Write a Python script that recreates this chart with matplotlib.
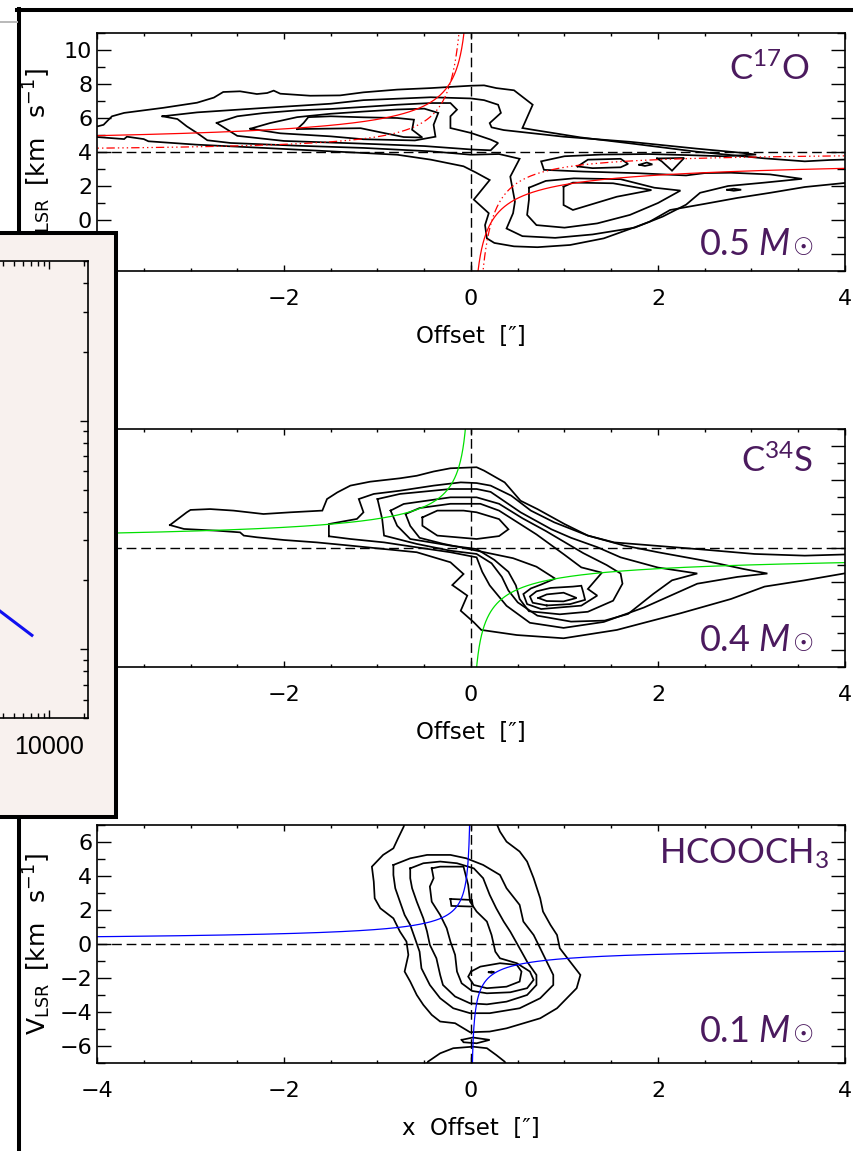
import matplotlib
matplotlib.use("Agg")
import numpy as np
import matplotlib.pyplot as plt
from matplotlib.ticker import MultipleLocator, LogLocator, NullFormatter, FuncFormatter
from matplotlib.lines import Line2D
from matplotlib.patches import Rectangle

plt.rcParams['font.family'] = ['DejaVu Sans']
plt.rcParams['mathtext.fontset'] = 'custom'
plt.rcParams['mathtext.rm'] = 'DejaVu Sans'
plt.rcParams['mathtext.sf'] = 'Lato'
plt.rcParams['mathtext.it'] = 'Lato:italic'
plt.rcParams['lines.scale_dashes'] = False

# ---------------------------------------------------------------- data
molecules = [r"$\mathsf{C^{17}O}$", r"$\mathsf{C^{34}S}$", r"$\mathsf{HCOOCH_3}$"]
masses = [0.5, 0.4, 0.1]            # enclosed mass [Msun]
v_sys = [4.0, 4.0, 0.0]              # systemic velocity [km/s]
ylims = [(-3, 11), (-3, 11), (-7, 7)]
distance_pc = 120.0
infall_j = 0.9                        # v*r for the dash-dot envelope model [km/s arcsec]
curve_colors = ["red", "#00e000", "blue"]

# C17O contours (offset ["], velocity [km/s])
c17o_lvl1 = [(-4.3, 5.45), (-4.0, 5.5), (-3.93, 5.6), (-3.84, 6.1), (-3.71, 6.3), (-3.29, 6.6), (-2.93, 6.9),
             (-2.75, 7.2), (-2.65, 7.53), (-2.47, 7.57), (-2.29, 7.41), (-2.18, 7.47), (-2.11, 7.61), (-2.04, 7.43),
             (-1.72, 7.31), (-1.40, 7.33), (-1.15, 7.51), (-0.79, 7.67), (-0.43, 7.76), (0.0, 7.9), (0.14, 7.92),
             (0.27, 7.76), (0.46, 7.63), (0.66, 6.78), (0.55, 5.41), (0.67, 5.3), (1.17, 4.86), (1.70, 4.51),
             (2.41, 4.02), (3.13, 3.63), (3.57, 3.45), (3.84, 3.53), (4.3, 3.6), (4.3, 2.2), (4.0, 2.18),
             (3.57, 1.94), (3.2, 1.6), (2.85, 1.3), (2.5, 0.95), (2.13, 0.59), (1.91, -0.1), (1.78, -0.37),
             (1.42, -1.08), (1.06, -1.47), (0.71, -1.6), (0.46, -1.55), (0.25, -1.35), (0.17, -1.08), (0.15, -0.3),
             (0.19, 0.4), (0.03, 1.2), (0.2, 2.35), (0.05, 2.8), (-0.08, 3.16), (-0.43, 3.55), (-0.79, 3.84),
             (-1.5, 4.04), (-2.22, 4.24), (-2.93, 4.43), (-3.45, 4.63), (-3.5, 4.76), (-3.68, 4.9), (-3.71, 4.76),
             (-4.0, 4.88), (-4.3, 4.85)]
c17o_lvl2 = [(-3.30, 6.10), (-2.93, 6.33), (-2.22, 6.59), (-1.50, 6.84), (-1.15, 7.05), (-0.43, 7.22), (0.00, 7.15),
             (0.14, 7.05), (0.29, 6.78), (0.32, 6.30), (0.20, 5.70), (0.22, 5.45), (0.35, 5.29), (0.99, 4.90),
             (1.70, 4.60), (2.41, 4.20), (2.90, 3.95), (3.05, 3.85), (2.70, 3.75), (2.30, 3.82), (1.90, 3.88),
             (1.40, 3.85), (1.00, 3.75), (0.75, 3.45), (0.78, 2.95), (1.20, 2.85), (1.80, 2.75), (2.30, 2.62),
             (2.50, 2.76), (2.78, 2.78), (3.20, 2.68), (3.54, 2.42), (3.14, 2.20), (2.75, 2.00), (2.45, 1.60),
             (2.30, 0.90), (2.05, 0.20), (1.75, -0.45), (1.30, -0.85), (0.90, -1.05), (0.55, -0.95), (0.38, -0.50),
             (0.45, 0.40), (0.47, 1.08), (0.42, 2.55), (0.52, 3.60), (0.30, 3.88), (0.00, 3.84), (-0.43, 4.04),
             (-1.15, 4.24), (-1.86, 4.37), (-2.57, 4.53), (-2.82, 4.69), (-2.93, 5.12), (-3.04, 5.51), (-3.14, 5.94)]
c17o_lvl3_red = [(-2.72, 5.71), (-2.50, 6.10), (-2.22, 6.29), (-1.86, 6.45), (-1.50, 6.53), (-1.15, 6.65),
                 (-0.79, 6.78), (-0.43, 6.88), (-0.22, 6.88), (-0.15, 6.49), (-0.22, 6.10), (-0.22, 5.41),
                 (0.00, 5.12), (0.21, 4.73), (0.29, 4.53), (0.21, 4.10), (0.00, 4.15), (-0.50, 4.35), (-1.20, 4.50),
                 (-2.00, 4.65), (-2.50, 4.95)]
c17o_lvl3_blue = [(0.62, 1.90), (0.80, 2.30), (1.10, 2.45), (1.60, 2.40), (1.96, 1.90), (2.24, 1.73), (2.00, 1.00),
                  (1.70, 0.30), (1.35, -0.20), (1.00, -0.45), (0.70, -0.30), (0.60, 0.30), (0.62, 1.20)]
c17o_lvl3_tail_a = [(1.14, 3.15), (1.25, 3.55), (1.60, 3.60), (1.68, 3.30), (1.60, 3.10), (1.30, 3.05)]
c17o_lvl3_tail_b = [(1.99, 3.62), (2.28, 3.65), (2.15, 2.90), (2.04, 3.45)]
c17o_lvl4_red = [(-2.36, 5.37), (-2.15, 5.70), (-1.86, 6.05), (-1.50, 6.25), (-1.15, 6.38), (-0.79, 6.50),
                 (-0.50, 6.55), (-0.35, 6.30), (-0.40, 5.60), (-0.38, 4.90), (-0.60, 4.68), (-1.15, 4.75),
                 (-1.50, 4.92), (-2.04, 5.10)]
c17o_lvl4_blue = [(0.99, 1.96), (1.09, 2.20), (1.52, 2.16), (1.93, 1.76), (1.56, 1.37), (1.09, 0.59), (0.99, 0.88)]
c17o_lvl5_red = [(-1.86, 5.35), (-1.79, 5.71), (-1.74, 6.05), (-1.50, 6.10), (-1.15, 6.04), (-0.79, 6.00),
                 (-0.61, 5.90), (-0.63, 5.31), (-0.52, 4.85), (-0.72, 4.88), (-0.97, 5.16), (-1.18, 5.40)]
c17o_peak_a = [(1.80, 3.25), (1.88, 3.38), (1.94, 3.27), (1.86, 3.18)]
c17o_peak_b = [(2.74, 1.78), (2.81, 1.84), (2.89, 1.78), (2.81, 1.72)]

# C34S contours
c34s_lvl1 = [(-3.22, 5.35), (-3.04, 6.10), (-3.00, 6.24), (-2.79, 6.29), (-2.54, 6.20), (-2.22, 6.00), (-1.93, 6.10),
             (-1.59, 6.20), (-1.54, 6.88), (-1.43, 7.27), (-1.29, 7.67), (-1.08, 7.90), (-0.76, 8.10), (-0.58, 8.25),
             (-0.40, 8.50), (-0.22, 8.69), (0.06, 8.75), (0.14, 8.55), (0.36, 7.86), (0.53, 6.78), (0.71, 6.29),
             (1.00, 5.41), (1.25, 4.73), (1.53, 4.33), (1.96, 4.14), (2.50, 3.90), (3.03, 3.65), (3.57, 3.55),
             (4.00, 3.62), (4.30, 3.62), (4.30, 2.45), (4.00, 2.51), (3.57, 2.10), (3.14, 1.73), (2.78, 1.00),
             (2.24, 0.16), (1.85, -0.40), (1.56, -0.82), (0.99, -1.31), (0.49, -1.12), (0.11, -0.82), (0.03, -0.37),
             (-0.11, 0.31), (-0.04, 1.20), (-0.20, 1.82), (-0.08, 2.47), (-0.22, 3.16), (-0.58, 3.75), (-0.93, 3.94),
             (-1.29, 4.14), (-1.65, 4.33), (-2.00, 4.47), (-2.29, 4.63), (-2.43, 4.73), (-2.47, 4.92), (-2.72, 5.02),
             (-3.07, 5.12)]
c34s_lvl2 = [(-1.52, 4.69), (-1.52, 5.41), (-1.22, 5.71), (-1.15, 6.10), (-1.20, 6.88), (-1.04, 7.18), (-0.76, 7.37),
             (-0.40, 7.67), (-0.11, 7.86), (0.06, 7.82), (0.21, 7.67), (0.43, 7.08), (0.64, 6.20), (0.89, 5.51),
             (1.25, 4.73), (1.64, 4.14), (2.00, 3.75), (2.50, 3.25), (2.92, 2.76), (3.17, 2.50), (2.85, 2.30),
             (2.42, 1.90), (1.85, 0.50), (1.42, -0.35), (0.99, -0.70), (0.63, -0.40), (0.38, 0.60), (0.20, 1.80),
             (0.12, 2.60), (0.06, 3.45), (-0.22, 3.75), (-0.58, 4.04), (-0.93, 4.33), (-1.29, 4.53)]
c34s_lvl3 = [(-1.00, 6.88), (-0.76, 7.18), (-0.22, 7.47), (0.06, 7.47), (0.21, 7.30), (0.53, 6.10), (0.86, 5.10),
             (1.07, 4.60), (1.35, 4.05), (1.60, 3.45), (2.00, 2.85), (2.42, 2.50), (2.15, 2.10), (1.95, 1.30),
             (1.68, 0.12), (1.43, -0.27), (1.07, -0.33), (0.71, 0.02), (0.50, 0.80), (0.40, 1.50), (0.33, 2.30),
             (0.22, 3.10), (0.06, 3.65), (-0.22, 3.84), (-0.58, 4.24), (-0.93, 4.73), (-0.95, 5.71)]
c34s_lvl4 = [(-0.86, 6.20), (-0.72, 6.59), (-0.22, 6.98), (0.06, 6.98), (0.30, 6.60), (0.55, 5.75), (0.80, 5.00),
             (1.00, 4.35), (1.20, 3.70), (1.45, 3.00), (1.60, 2.50), (1.62, 1.90), (1.52, 0.90), (1.25, 0.25),
             (0.95, 0.10), (0.62, 0.28), (0.52, 1.00), (0.48, 1.80), (0.40, 2.60), (0.25, 3.30), (0.06, 3.94),
             (-0.22, 4.14), (-0.65, 4.53), (-0.79, 5.31)]
c34s_lvl5 = [(-0.70, 6.00), (-0.55, 6.35), (-0.22, 6.60), (0.10, 6.60), (0.30, 6.20), (0.50, 5.50), (0.70, 4.80),
             (0.85, 4.20), (1.00, 3.60), (1.18, 2.86), (1.40, 2.55), (1.25, 1.59), (1.35, 1.20), (1.18, 0.61),
             (0.75, 0.41), (0.60, 0.70), (0.56, 1.29), (0.64, 1.62), (0.75, 1.85), (0.90, 2.20), (0.70, 2.90),
             (0.45, 3.40), (0.10, 3.80), (-0.30, 4.25), (-0.55, 4.60), (-0.65, 5.30)]
c34s_lvl6_red = [(-0.52, 5.80), (-0.36, 6.20), (-0.08, 6.20), (0.06, 6.10), (0.30, 5.70), (0.40, 5.10), (0.30, 4.70),
                 (0.06, 4.53), (-0.36, 4.73), (-0.52, 5.31)]
c34s_lvl6_blue = [(0.81, 0.62), (0.66, 0.78), (0.63, 1.15), (0.70, 1.45), (0.85, 1.65), (1.09, 1.73), (1.18, 1.78),
                  (1.20, 1.40), (1.22, 0.95), (1.06, 0.70)]
c34s_lvl7_blue = [(0.72, 1.06), (0.81, 1.27), (0.99, 1.37), (1.13, 1.06), (0.99, 0.86), (0.81, 0.88)]

# HCOOCH3 contours
hcooch3_lvl1 = [(-0.70, 7.30), (-0.72, 6.90), (-0.78, 6.22), (-0.83, 5.63), (-0.94, 5.24), (-1.06, 4.55),
                (-1.04, 3.67), (-1.03, 2.69), (-0.97, 2.10), (-0.83, 1.51), (-0.76, 0.73), (-0.69, 0.14),
                (-0.67, -0.64), (-0.71, -1.62), (-0.65, -2.21), (-0.58, -3.00), (-0.51, -3.58), (-0.42, -4.17),
                (-0.33, -4.56), (-0.17, -4.66), (-0.01, -5.19), (0.20, -5.15), (0.38, -4.96), (0.74, -4.37),
                (0.92, -3.78), (1.13, -2.60), (1.17, -1.82), (1.06, -1.04), (0.95, -0.25), (0.92, 0.53),
                (0.85, 1.12), (0.77, 1.91), (0.74, 2.69), (0.67, 3.87), (0.60, 4.85), (0.52, 5.44), (0.38, 6.02),
                (0.31, 6.61), (0.28, 7.00), (0.25, 7.30)]
hcooch3_lvl2 = [(-0.83, 4.65), (-0.65, 5.04), (-0.47, 5.24), (-0.22, 5.24), (-0.05, 5.04), (0.13, 4.65), (0.31, 4.06),
                (0.38, 3.28), (0.52, 2.30), (0.56, 1.32), (0.67, 0.53), (0.74, -0.25), (0.81, -1.04), (0.88, -1.82),
                (0.88, -2.41), (0.74, -3.19), (0.52, -3.78), (0.20, -4.07), (-0.01, -4.07), (-0.19, -3.78),
                (-0.33, -3.19), (-0.44, -2.41), (-0.53, -1.43), (-0.55, -0.45), (-0.60, 0.34), (-0.65, 1.12),
                (-0.71, 1.71), (-0.76, 2.49), (-0.81, 3.28), (-0.83, 4.06)]
hcooch3_lvl3 = [(-0.65, 4.45), (-0.51, 4.75), (-0.33, 4.85), (-0.15, 4.75), (0.03, 4.45), (0.13, 3.87), (0.20, 2.89),
                (0.27, 2.10), (0.35, 1.32), (0.42, 0.73), (0.52, -0.25), (0.60, -1.04), (0.70, -1.82), (0.70, -2.41),
                (0.60, -3.00), (0.38, -3.39), (0.17, -3.55), (-0.01, -3.49), (-0.17, -3.09), (-0.30, -2.41),
                (-0.33, -1.82), (-0.37, -0.84), (-0.44, -0.05), (-0.47, 0.73), (-0.51, 1.51), (-0.58, 2.49),
                (-0.63, 3.28), (-0.65, 3.87)]
hcooch3_lvl4 = [(-0.42, 4.45), (-0.33, 4.55), (-0.08, 4.55), (-0.03, 3.47), (-0.01, 2.49), (0.06, 1.91), (0.17, 1.32),
                (0.22, 0.53), (0.26, -0.45), (0.31, -0.84), (0.49, -1.13), (0.63, -1.62), (0.67, -2.11), (0.60, -2.60),
                (0.42, -2.84), (0.17, -2.90), (0.01, -2.76), (-0.10, -2.31), (-0.15, -1.62), (-0.17, -0.64),
                (-0.22, 0.14), (-0.26, 0.93), (-0.33, 1.71), (-0.42, 2.49), (-0.44, 3.38), (-0.40, 3.87)]
hcooch3_lvl5_red = [(-0.22, 2.65), (0.01, 2.59), (0.02, 2.20), (-0.21, 2.24)]
hcooch3_lvl5_blue = [(0.00, -1.62), (0.10, -1.33), (0.31, -1.13), (0.49, -1.23), (0.54, -1.62), (0.52, -2.21),
                     (0.38, -2.51), (0.17, -2.60), (0.03, -2.41), (-0.03, -1.92)]
hcooch3_peak = [(0.19, -1.66), (0.22, -1.62), (0.25, -1.66), (0.22, -1.70)]
hcooch3_low_a = [(-0.10, -5.64), (0.02, -5.50), (0.20, -5.64), (0.06, -5.84), (-0.08, -5.78)]
hcooch3_low_b = [(-0.50, -7.30), (-0.46, -6.92), (-0.33, -6.43), (-0.19, -6.13), (0.02, -6.04), (0.17, -6.13),
                 (0.27, -6.53), (0.36, -6.92), (0.40, -7.30)]

panel_contours = [
    [c17o_lvl1, c17o_lvl2, c17o_lvl3_red, c17o_lvl3_blue, c17o_lvl3_tail_a, c17o_lvl3_tail_b,
     c17o_lvl4_red, c17o_lvl4_blue, c17o_lvl5_red, c17o_peak_a, c17o_peak_b],
    [c34s_lvl1, c34s_lvl2, c34s_lvl3, c34s_lvl4, c34s_lvl5, c34s_lvl6_red, c34s_lvl6_blue, c34s_lvl7_blue],
    [hcooch3_lvl1, hcooch3_lvl2, hcooch3_lvl3, hcooch3_lvl4, hcooch3_lvl5_red, hcooch3_lvl5_blue, hcooch3_peak,
     hcooch3_low_a, hcooch3_low_b],
]

# inset: radial profile (log-log)
inset_r = [3000, 7300]
inset_v = [1.61, 1.14]
inset_labelled_tick = 10000

# ---------------------------------------------------------------- layout helpers
FW, FH = 854, 1151
fig = plt.figure(figsize=(FW / 100, FH / 100), dpi=100)


def fx(px):
    return px / FW


def fy(py):
    return 1 - py / FH


PURPLE = "#4b1a5e"
panel_tops = [33, 429, 825]
xlabels = [u"Offset  [\u2033]", u"Offset  [\u2033]", u"x  Offset  [\u2033]"]
ylabel = r"$\mathrm{V_{LSR}\ \ [km\ \ \ s^{-1}]}$"


def kepler_branches(mass, vs):
    r = np.geomspace(0.004, 4.3, 400)
    dv = 29.78 * np.sqrt(mass / (distance_pc * r))
    return (-r, vs + dv), (r, vs - dv)


for i in range(3):
    top = panel_tops[i]
    ax = fig.add_axes([fx(97), fy(top + 238), fx(845) - fx(97), 238 / FH])
    ax.set_zorder(1)
    ax.set_xlim(-4, 4)
    ax.set_ylim(*ylims[i])
    ax.xaxis.set_major_locator(MultipleLocator(2))
    ax.xaxis.set_minor_locator(MultipleLocator(0.5))
    ax.yaxis.set_major_locator(MultipleLocator(2))
    ax.yaxis.set_minor_locator(MultipleLocator(1))
    ax.tick_params(which='both', direction='in', top=True, right=True, width=1.0, labelsize=16)
    ax.tick_params(axis='x', which='major', length=4, pad=13)
    ax.tick_params(axis='x', which='minor', length=2.2)
    ax.tick_params(axis='y', which='major', length=10, pad=3.5)
    ax.tick_params(axis='y', which='minor', length=5.5)
    for s in ax.spines.values():
        s.set_linewidth(1.2)

    for poly in panel_contours[i]:
        xs = [p[0] for p in poly] + [poly[0][0]]
        vs = [p[1] for p in poly] + [poly[0][1]]
        ax.plot(xs, vs, color='k', lw=1.25, solid_joinstyle='miter')

    ax.axvline(0, color='k', lw=1.0, ls=(0, (7, 3.5)))
    ax.axhline(v_sys[i], color='k', lw=1.0, ls=(0, (7, 3.5)))

    for bx, bv in kepler_branches(masses[i], v_sys[i]):
        ax.plot(bx, bv, color=curve_colors[i], lw=0.9)
    if i == 0:
        r = np.geomspace(0.05, 4.3, 300)
        ax.plot(-r, v_sys[i] + infall_j / r, color='red', lw=0.9, ls=(0, (6, 2.2, 1, 2.2, 1, 2.2, 1, 2.2)))
        ax.plot(r, v_sys[i] - infall_j / r, color='red', lw=0.9, ls=(0, (6, 2.2, 1, 2.2, 1, 2.2, 1, 2.2)))

    ax.text(0.5, -66 / 238, xlabels[i], transform=ax.transAxes, ha='center', va='center', fontsize=16.5)
    ax.text((37 - 97) / 748, 0.5 + (0.0 if i else -0.03), ylabel, transform=ax.transAxes, rotation=90,
            ha='center', va='center', fontsize=18)

    name_base = [46.7, 43.3, 38.3][i]
    name_right = [810, 813, 829][i]
    ax.text((name_right - 97) / 748, 1 - name_base / 238, molecules[i], transform=ax.transAxes,
            ha='right', va='baseline', color=PURPLE, fontsize=25)
    mass_base = [221.7, 221.7, 216.7][i]
    ax.text((814 - 97) / 748, 1 - mass_base / 238, u"\u2609", transform=ax.transAxes,
            ha='right', va='baseline', color=PURPLE, fontsize=17, family='DejaVu Sans')
    ax.text((791 - 97) / 748, 1 - mass_base / 238, r"$\mathsf{%.1f}\ \mathit{M}$" % masses[i],
            transform=ax.transAxes, ha='right', va='baseline', color=PURPLE, fontsize=26)

# ---------------------------------------------------------------- frame lines
fig.add_artist(Line2D([fx(17), fx(870)], [fy(10), fy(10)], color='k', lw=2.9, zorder=2))
fig.add_artist(Line2D([fx(19), fx(19)], [fy(8.6), fy(1170)], color='k', lw=2.9, zorder=2))
fig.add_artist(Line2D([fx(0), fx(17)], [fy(22), fy(22)], color='#b9b9b9', lw=1.4, zorder=2))

# ---------------------------------------------------------------- inset
BEIGE = "#f8f1ee"
fig.add_artist(Rectangle((fx(-20), fy(816.5)), fx(116) - fx(-20), (816.5 - 233) / FH, transform=fig.transFigure,
                         facecolor=BEIGE, edgecolor='k', lw=2.9, zorder=5))
axi = fig.add_axes([fx(-250), fy(718), (88 + 250) / FW, (718 - 261) / FH])
axi.set_zorder(6)
axi.set_facecolor(BEIGE)
axi.set_xscale('log')
axi.set_yscale('log')
axi.set_xlim(27.8, 21500)
axi.set_ylim(0.5, 50)
axi.plot(inset_r, inset_v, color='#1010f0', lw=2.2, solid_capstyle='butt')
axi.xaxis.set_major_locator(LogLocator(base=10))
axi.xaxis.set_minor_locator(LogLocator(base=10, subs=np.arange(2, 10)))
axi.yaxis.set_major_locator(LogLocator(base=10))
axi.yaxis.set_minor_locator(LogLocator(base=10, subs=np.arange(2, 10)))
axi.xaxis.set_major_formatter(FuncFormatter(
    lambda v, p: "%d" % round(v) if abs(v - inset_labelled_tick) < 1 else ""))
axi.xaxis.set_minor_formatter(NullFormatter())
axi.yaxis.set_major_formatter(NullFormatter())
axi.yaxis.set_minor_formatter(NullFormatter())
axi.tick_params(which='both', direction='in', top=True, right=True, width=1.0)
axi.tick_params(which='major', length=6, pad=12)
axi.tick_params(which='minor', length=3.5)
for lab in axi.get_xticklabels():
    lab.set_family('Liberation Sans')
    lab.set_fontsize(18)
for s in axi.spines.values():
    s.set_linewidth(1.2)

fig.savefig("out.png", dpi=100)
